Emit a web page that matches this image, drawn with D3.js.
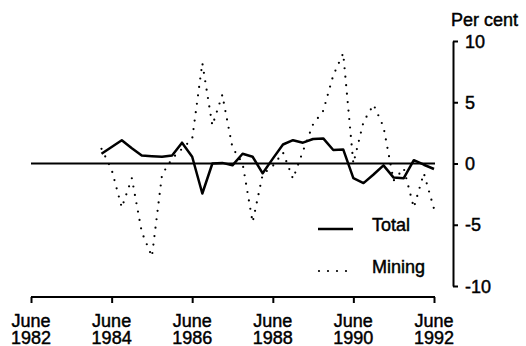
<!DOCTYPE html>
<html><head><meta charset="utf-8">
<script src="https://cdn.jsdelivr.net/npm/d3@7"></script>
<style>
body{margin:0;background:#fff;}
text{font-family:"Liberation Sans",Arial,sans-serif;font-size:18px;fill:#000;stroke:#000;stroke-width:0.45px;}
</style></head>
<body><svg id="c" width="526" height="346"></svg>
<script>
// Quarters from March 1984 to June 1992
const quarters = ["1984-03","1984-06","1984-09","1984-12","1985-03","1985-06","1985-09","1985-12",
"1986-03","1986-06","1986-09","1986-12","1987-03","1987-06","1987-09","1987-12",
"1988-03","1988-06","1988-09","1988-12","1989-03","1989-06","1989-09","1989-12",
"1990-03","1990-06","1990-09","1990-12","1991-03","1991-06","1991-09","1991-12",
"1992-03","1992-06"];
const total = [0.8,1.35,1.9,1.25,0.65,0.6,0.55,0.65,
1.7,0.55,-2.45,0.0,0.05,-0.15,0.8,0.55,
-0.8,0.4,1.55,1.9,1.7,2.0,2.05,1.1,
1.15,-1.2,-1.6,-0.9,-0.15,-1.15,-1.2,0.27,
-0.1,-0.45];
const mining = [1.2,-0.5,-3.6,-1.2,-5.6,-7.6,-0.9,0.4,
1.2,2.0,8.2,3.1,5.6,1.3,0.0,-4.8,
-0.9,-0.2,0.9,-1.25,1.0,3.2,4.3,7.2,
9.0,0.0,3.4,4.8,3.0,-1.4,-0.4,-3.6,
-0.8,-3.7];
const xTicks = ["1982-06","1984-06","1986-06","1988-06","1990-06","1992-06"];
const yTicks = [10,5,0,-5,-10];
const seriesNames = ["Total","Mining"];
const yTitle = "Per cent";

const parse = d3.timeParse("%Y-%m");
const svg = d3.select("#c");
const x = d3.scaleTime().domain([parse("1982-06"), parse("1992-06")]).range([31, 434]);
const y = d3.scaleLinear().domain([-10, 10]).range([286, 41]);

// x axis
const xAxis = svg.append("g").attr("transform","translate(0,297)")
  .call(d3.axisBottom(x).tickValues(xTicks.map(parse)).tickSize(6).tickSizeOuter(0).tickFormat(""));
xAxis.select(".domain").attr("stroke","#000").attr("stroke-width",2).attr("d","M31,0H435");
xAxis.selectAll(".tick line").attr("stroke","#000").attr("stroke-width",2);
xTicks.forEach(t=>{
  svg.append("text").attr("text-anchor","middle").attr("x", x(parse(t))).attr("y", 326.5).text("June");
  svg.append("text").attr("text-anchor","middle").attr("x", x(parse(t))).attr("y", 343.5).text(t.slice(0,4));
});

// y axis on the right
const yAxis = svg.append("g").attr("transform","translate(453,0)")
  .call(d3.axisRight(y).tickValues(yTicks).tickSize(5).tickSizeOuter(0).tickFormat(""));
yAxis.select(".domain").attr("stroke","#000").attr("stroke-width",2);
yAxis.selectAll(".tick line").attr("stroke","#000").attr("stroke-width",2);
yTicks.forEach(t=>{
  svg.append("text").attr("x",465).attr("y", y(t)+6.5).text(t);
});
svg.append("text").attr("x",451).attr("y",26).text(yTitle);

// zero line
svg.append("line").attr("x1",31).attr("x2",435).attr("y1",y(0)).attr("y2",y(0))
  .attr("stroke","#000").attr("stroke-width",2);

const line = d3.line().x((d,i)=>x(parse(quarters[i]))).y(d=>y(d));
svg.append("path").datum(mining).attr("d",line).attr("fill","none")
  .attr("stroke","#000").attr("stroke-width",2.2).attr("stroke-linecap","round")
  .attr("stroke-dasharray","0 8.5");
svg.append("path").datum(total).attr("d",line).attr("fill","none")
  .attr("stroke","#000").attr("stroke-width",2.5).attr("stroke-linejoin","round");

// legend
svg.append("line").attr("x1",318).attr("x2",353).attr("y1",229).attr("y2",229)
  .attr("stroke","#000").attr("stroke-width",2.5);
svg.append("text").attr("x",372).attr("y",231).text(seriesNames[0]);
svg.append("line").attr("x1",319).attr("x2",353).attr("y1",271).attr("y2",271)
  .attr("stroke","#000").attr("stroke-width",2.2).attr("stroke-linecap","round").attr("stroke-dasharray","0 9");
svg.append("text").attr("x",372).attr("y",272.5).text(seriesNames[1]);
</script></body></html>
